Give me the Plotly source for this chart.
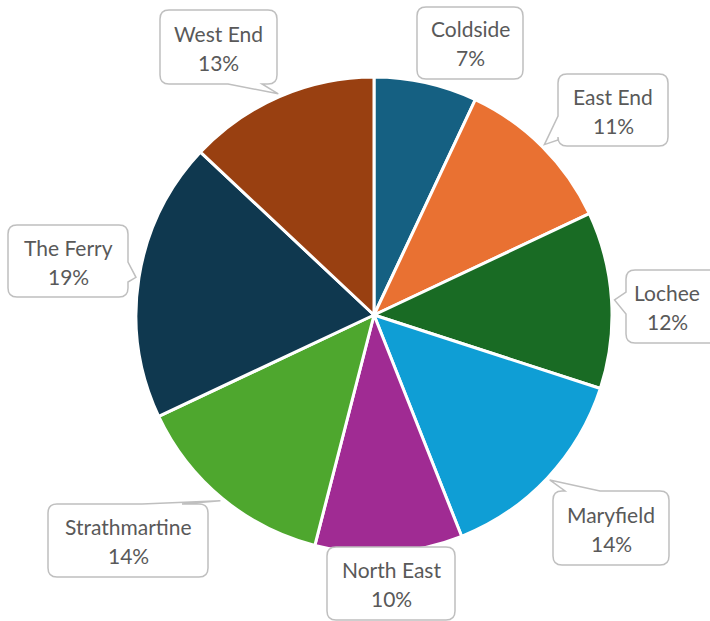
import math
import plotly.graph_objects as go

# Share of total by area (percent)
areas = ["Coldside", "East End", "Lochee", "Maryfield", "North East",
         "Strathmartine", "The Ferry", "West End"]
shares = [7, 11, 12, 14, 10, 14, 19, 13]
colors = ["#156082", "#E97132", "#196B24", "#0F9ED5", "#A02B93",
          "#4EA72E", "#0F384F", "#994011"]

W, H = 710, 621
CX, CY, R = 374, 315, 238          # pie centre and radius in pixels

# Callout boxes (x0, y0, x1, y1) in pixels and the edge the pointer leaves from
boxes = {
    "Coldside":      ((417, 7, 523, 79), None),
    "East End":      ((558, 74, 668, 146), ("left", 116, 140)),
    "Lochee":        ((626, 270, 718, 343), ("left", 292, 314)),
    "Maryfield":     ((553, 491, 669, 565), ("top", 565, 600)),
    "North East":    ((327, 547, 455, 620), None),
    "Strathmartine": ((48, 504, 208, 577), ("top", 142, 182)),
    "The Ferry":     ((8, 225, 128, 297), ("right", 262, 282)),
    "West End":      ((160, 10, 277, 84), ("bottom", 228, 262)),
}

FONT = dict(family="Lato, 'Open Sans', sans-serif", size=21, color="#595959")


def px(x, y):
    return f"{x / W:.5f},{1 - y / H:.5f}"


def bubble_path(box, tail, tip, r=9):
    x0, y0, x1, y1 = box
    p = [f"M{px(x0 + r, y0)}"]
    if tail and tail[0] == "top":
        p += [f"L{px(tail[1], y0)}", f"L{px(*tip)}", f"L{px(tail[2], y0)}"]
    p += [f"L{px(x1 - r, y0)}", f"Q{px(x1, y0)} {px(x1, y0 + r)}"]
    if tail and tail[0] == "right":
        p += [f"L{px(x1, tail[1])}", f"L{px(*tip)}", f"L{px(x1, tail[2])}"]
    p += [f"L{px(x1, y1 - r)}", f"Q{px(x1, y1)} {px(x1 - r, y1)}"]
    if tail and tail[0] == "bottom":
        p += [f"L{px(tail[2], y1)}", f"L{px(*tip)}", f"L{px(tail[1], y1)}"]
    p += [f"L{px(x0 + r, y1)}", f"Q{px(x0, y1)} {px(x0, y1 - r)}"]
    if tail and tail[0] == "left":
        p += [f"L{px(x0, tail[2])}", f"L{px(*tip)}", f"L{px(x0, tail[1])}"]
    p += [f"L{px(x0, y0 + r)}", f"Q{px(x0, y0)} {px(x0 + r, y0)}", "Z"]
    return " ".join(p)


fig = go.Figure(go.Pie(
    labels=areas,
    values=shares,
    sort=False,
    direction="clockwise",
    rotation=0,
    marker=dict(colors=colors, line=dict(color="white", width=3)),
    textinfo="none",
    showlegend=False,
    domain=dict(x=[(CX - R) / W, (CX + R) / W],
                y=[1 - (CY + R) / H, 1 - (CY - R) / H]),
))

shapes, annotations = [], []
total = sum(shares)
cum = 0
for name, val in zip(areas, shares):
    mid = (cum + val / 2) / total * 2 * math.pi
    cum += val
    tip = (CX + (R + 3) * math.sin(mid), CY - (R + 3) * math.cos(mid))
    box, tail = boxes[name]
    shapes.append(dict(type="path", xref="paper", yref="paper",
                       path=bubble_path(box, tail, tip),
                       fillcolor="white",
                       line=dict(color="#BFBFBF", width=1.5)))
    x0, y0, x1, y1 = box
    xc = (x0 + min(x1, W - 2)) / 2 if name == "Lochee" else (x0 + x1) / 2
    yc = (y0 + y1) / 2
    for line_text, dy in ((name, -14), (f"{val}%", 15)):
        annotations.append(dict(
            x=xc / W, y=1 - (yc + dy) / H,
            xref="paper", yref="paper", xanchor="center", yanchor="middle",
            showarrow=False, text=line_text, font=FONT,
        ))

fig.update_layout(
    width=W, height=H,
    margin=dict(l=0, r=0, t=0, b=0),
    paper_bgcolor="white", plot_bgcolor="white",
    shapes=shapes, annotations=annotations,
)

fig.write_html("out.html")
